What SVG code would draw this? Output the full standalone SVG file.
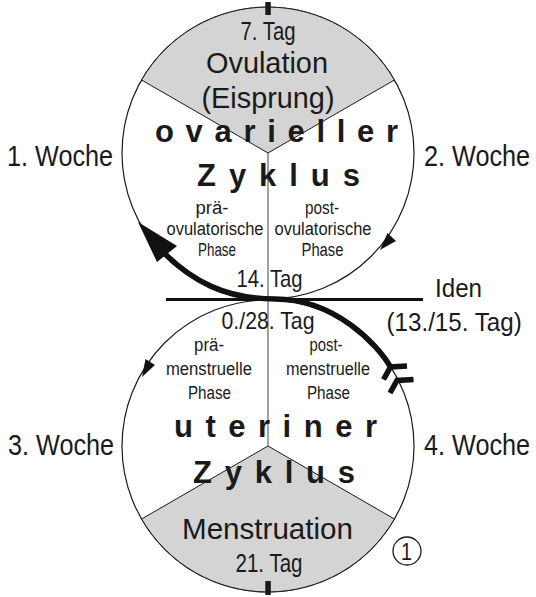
<svg xmlns="http://www.w3.org/2000/svg" width="536" height="597" viewBox="0 0 536 597">
  <style>
    .ring { fill: none; stroke: #1a1a1a; stroke-width: 1.2; }
    .wedge { fill: #d4d4d4; stroke: #1a1a1a; stroke-width: 1; }
    .divider { stroke: #7a7a7a; stroke-width: 1.4; }
    .tick { fill: #1a1a1a; }
    .t { font-family: "Liberation Sans", Arial, sans-serif; fill: #1a1a1a; }
    .big { font-size: 30px; }
    .mid { font-size: 26px; }
    .day { font-size: 24px; }
    .small { font-size: 18px; }
    .bold { font-weight: bold; font-size: 31px; }
    .week { font-size: 29px; }
    .c { text-anchor: middle; }
    .shaft { fill: none; stroke: #111; stroke-width: 5.5; }
    .fletch { fill: none; stroke: #111; stroke-width: 5.5; stroke-linejoin: miter; stroke-miterlimit: 6; }
    .head { fill: #111; }
  </style>

  <!-- upper cycle: ovarian -->
  <g id="ovarian-cycle">
    <circle class="ring" cx="268" cy="153" r="146"/>
    <path class="wedge" d="M268 153 L141.6 80 A146 146 0 0 1 394.4 80 Z"/>
    <rect class="tick" x="265.3" y="2" width="5.5" height="13"/>
    <text class="t mid c" x="268" y="40" textLength="55" lengthAdjust="spacingAndGlyphs">7. Tag</text>
    <text class="t big c" x="267" y="73" textLength="122" lengthAdjust="spacingAndGlyphs">Ovulation</text>
    <text class="t big c" x="268" y="107.5" textLength="133" lengthAdjust="spacingAndGlyphs">(Eisprung)</text>
  </g>

  <!-- lower cycle: uterine -->
  <g id="uterine-cycle">
    <circle class="ring" cx="268" cy="446" r="146"/>
    <path class="wedge" d="M268 446 L394.4 519 A146 146 0 0 1 141.6 519 Z"/>
    <rect class="tick" x="265.3" y="581" width="5.5" height="14"/>
    <text class="t big c" x="267.5" y="539" textLength="171" lengthAdjust="spacingAndGlyphs">Menstruation</text>
    <text class="t mid c" x="269" y="571.5" textLength="67" lengthAdjust="spacingAndGlyphs">21. Tag</text>
  </g>

  <!-- phase divider and Iden line -->
  <g id="divider">
    <line class="divider" x1="268" y1="153" x2="268" y2="446"/>
    <line x1="166" y1="299.5" x2="423" y2="299.5" stroke="#111" stroke-width="3"/>
  </g>

  <!-- cycle titles -->
  <g id="ovarian-title">
    <text class="t bold" x="155" y="141.5" textLength="243" lengthAdjust="spacing">ovarieller</text>
    <text class="t bold" x="197" y="186" textLength="163" lengthAdjust="spacing">Zyklus</text>
  </g>
  <g id="uterine-title">
    <text class="t bold" x="174" y="437" textLength="203" lengthAdjust="spacing">uteriner</text>
    <text class="t bold" x="193" y="483" textLength="162" lengthAdjust="spacing">Zyklus</text>
  </g>

  <!-- phase labels -->
  <g id="preovulatory-phase">
    <text class="t small c" x="212" y="214" textLength="33" lengthAdjust="spacingAndGlyphs">prä-</text>
    <text class="t small c" x="215" y="234.5" textLength="97" lengthAdjust="spacingAndGlyphs">ovulatorische</text>
    <text class="t small c" x="217" y="255.5" textLength="38" lengthAdjust="spacingAndGlyphs">Phase</text>
  </g>
  <g id="postovulatory-phase">
    <text class="t small c" x="322" y="214" textLength="34" lengthAdjust="spacingAndGlyphs">post-</text>
    <text class="t small c" x="323" y="234.5" textLength="97" lengthAdjust="spacingAndGlyphs">ovulatorische</text>
    <text class="t small c" x="322.5" y="255.5" textLength="42" lengthAdjust="spacingAndGlyphs">Phase</text>
  </g>
  <g id="premenstrual-phase">
    <text class="t small c" x="209" y="350.5" textLength="30" lengthAdjust="spacingAndGlyphs">prä-</text>
    <text class="t small c" x="209" y="375" textLength="86" lengthAdjust="spacingAndGlyphs">menstruelle</text>
    <text class="t small c" x="209.5" y="398.5" textLength="43" lengthAdjust="spacingAndGlyphs">Phase</text>
  </g>
  <g id="postmenstrual-phase">
    <text class="t small c" x="326" y="350.5" textLength="33" lengthAdjust="spacingAndGlyphs">post-</text>
    <text class="t small c" x="328" y="375" textLength="84" lengthAdjust="spacingAndGlyphs">menstruelle</text>
    <text class="t small c" x="328.5" y="398.5" textLength="43" lengthAdjust="spacingAndGlyphs">Phase</text>
  </g>

  <!-- day markers at the junction -->
  <g id="junction-days">
    <text class="t day" x="236.5" y="287" textLength="66" lengthAdjust="spacingAndGlyphs">14. Tag</text>
    <text class="t day" x="221.5" y="328.5" textLength="93" lengthAdjust="spacingAndGlyphs">0./28. Tag</text>
  </g>

  <!-- Iden label -->
  <g id="iden">
    <text class="t" font-size="26" x="435" y="297" textLength="47" lengthAdjust="spacingAndGlyphs">Iden</text>
    <text class="t" font-size="26" transform="translate(386.5 331) scale(0.93 1)">(13./15. Tag)</text>
  </g>

  <!-- week labels (condensed by a horizontal scale) -->
  <g id="weeks">
    <text class="t week" transform="translate(7 166) scale(0.87 1)">1. Woche</text>
    <text class="t week" transform="translate(424 166) scale(0.87 1)">2. Woche</text>
    <text class="t week" transform="translate(8 455) scale(0.87 1)">3. Woche</text>
    <text class="t week" transform="translate(424 455) scale(0.87 1)">4. Woche</text>
  </g>

  <!-- figure number: circled 1 -->
  <g id="figure-number">
    <circle cx="407" cy="551" r="14" fill="none" stroke="#1a1a1a" stroke-width="1.3"/>
    <text class="t c" font-size="24" x="406.5" y="559.5" textLength="11" lengthAdjust="spacingAndGlyphs">1</text>
  </g>

  <!-- connectors -->
  <g id="connectors">
    <!-- direction arrows on the two rings -->
    <polygon class="head" points="380,250 396,241 387.5,233"/>
    <polygon class="head" points="142,377 155,365 145.5,359"/>
    <!-- thick cycle arrow: shaft through the junction, head, tail feathers -->
    <path class="shaft" d="M390.5 367 C378 345 335 299 275 299 C225 299 192 281 163 252"/>
    <polygon class="head" points="138,222 177,246 157,262"/>
    <polyline class="fletch" points="383.5,379.5 390.5,367 407,366"/>
    <polyline class="fletch" points="390,393 397,380.5 413.5,379.5"/>
  </g>
</svg>
